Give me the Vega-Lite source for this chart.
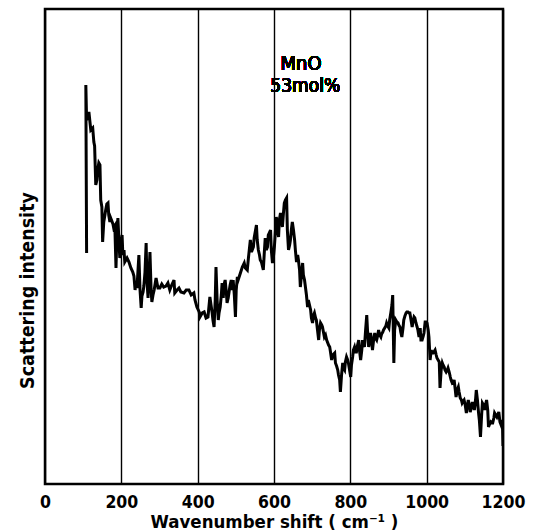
{
  "$schema": "https://vega.github.io/schema/vega-lite/v6.json",
  "width": 458,
  "height": 475,
  "autosize": {"type": "none"},
  "padding": {"left": 45, "top": 9, "right": 33, "bottom": 48},
  "background": "white",
  "config": {"view": {"stroke": "black", "strokeWidth": 2.5}},
  "data": {"values": [
    {"shift":109,"intensity":231},{"shift":107,"intensity":399},{"shift":109,"intensity":364},{"shift":115,"intensity":372},
    {"shift":120,"intensity":354},{"shift":125,"intensity":356},{"shift":128,"intensity":342},{"shift":130,"intensity":338},
    {"shift":133,"intensity":299},{"shift":136,"intensity":304},{"shift":138,"intensity":314},{"shift":141,"intensity":321},
    {"shift":144,"intensity":319},{"shift":146,"intensity":284},{"shift":149,"intensity":277},{"shift":151,"intensity":242},
    {"shift":154,"intensity":262},{"shift":157,"intensity":269},{"shift":159,"intensity":274},{"shift":162,"intensity":280},
    {"shift":165,"intensity":281},{"shift":167,"intensity":269},{"shift":170,"intensity":262},{"shift":172,"intensity":266},
    {"shift":178,"intensity":260},{"shift":180,"intensity":256},{"shift":183,"intensity":258},{"shift":186,"intensity":216},
    {"shift":188,"intensity":244},{"shift":191,"intensity":266},{"shift":193,"intensity":249},{"shift":196,"intensity":226},
    {"shift":199,"intensity":239},{"shift":202,"intensity":249},{"shift":204,"intensity":229},{"shift":207,"intensity":234},
    {"shift":209,"intensity":222},{"shift":215,"intensity":226},{"shift":220,"intensity":222},{"shift":225,"intensity":216},
    {"shift":230,"intensity":212},{"shift":233,"intensity":208},{"shift":236,"intensity":194},{"shift":238,"intensity":200},
    {"shift":241,"intensity":196},{"shift":244,"intensity":216},{"shift":246,"intensity":229},{"shift":249,"intensity":194},
    {"shift":252,"intensity":176},{"shift":254,"intensity":188},{"shift":257,"intensity":192},{"shift":259,"intensity":198},
    {"shift":262,"intensity":212},{"shift":265,"intensity":241},{"shift":267,"intensity":204},{"shift":270,"intensity":186},
    {"shift":272,"intensity":204},{"shift":275,"intensity":232},{"shift":278,"intensity":194},{"shift":280,"intensity":182},
    {"shift":283,"intensity":189},{"shift":286,"intensity":194},{"shift":291,"intensity":206},{"shift":296,"intensity":196},
    {"shift":301,"intensity":196},{"shift":306,"intensity":200},{"shift":311,"intensity":197},{"shift":317,"intensity":198},
    {"shift":322,"intensity":201},{"shift":327,"intensity":194},{"shift":332,"intensity":199},{"shift":338,"intensity":204},
    {"shift":340,"intensity":191},{"shift":346,"intensity":194},{"shift":351,"intensity":196},{"shift":356,"intensity":192},
    {"shift":364,"intensity":191},{"shift":370,"intensity":194},{"shift":377,"intensity":194},{"shift":383,"intensity":189},
    {"shift":390,"intensity":191},{"shift":393,"intensity":184},{"shift":398,"intensity":177},{"shift":404,"intensity":172},
    {"shift":406,"intensity":167},{"shift":412,"intensity":171},{"shift":417,"intensity":172},{"shift":422,"intensity":166},
    {"shift":427,"intensity":167},{"shift":432,"intensity":187},{"shift":435,"intensity":179},{"shift":438,"intensity":171},
    {"shift":440,"intensity":164},{"shift":443,"intensity":157},{"shift":446,"intensity":184},{"shift":448,"intensity":217},
    {"shift":451,"intensity":184},{"shift":454,"intensity":164},{"shift":456,"intensity":171},{"shift":459,"intensity":177},
    {"shift":462,"intensity":189},{"shift":464,"intensity":201},{"shift":467,"intensity":186},{"shift":469,"intensity":199},
    {"shift":472,"intensity":204},{"shift":475,"intensity":192},{"shift":477,"intensity":181},{"shift":480,"intensity":186},
    {"shift":483,"intensity":194},{"shift":485,"intensity":199},{"shift":488,"intensity":204},{"shift":491,"intensity":194},
    {"shift":493,"intensity":204},{"shift":496,"intensity":189},{"shift":499,"intensity":167},{"shift":501,"intensity":194},
    {"shift":504,"intensity":207},{"shift":506,"intensity":204},{"shift":512,"intensity":211},{"shift":517,"intensity":217},
    {"shift":522,"intensity":221},{"shift":525,"intensity":216},{"shift":530,"intensity":214},{"shift":533,"intensity":226},
    {"shift":538,"intensity":244},{"shift":541,"intensity":232},{"shift":546,"intensity":237},{"shift":548,"intensity":246},
    {"shift":554,"intensity":259},{"shift":556,"intensity":244},{"shift":559,"intensity":234},{"shift":562,"intensity":229},
    {"shift":564,"intensity":224},{"shift":567,"intensity":222},{"shift":572,"intensity":214},{"shift":575,"intensity":234},
    {"shift":577,"intensity":246},{"shift":580,"intensity":234},{"shift":583,"intensity":237},{"shift":585,"intensity":249},
    {"shift":591,"intensity":254},{"shift":593,"intensity":234},{"shift":596,"intensity":221},{"shift":599,"intensity":229},
    {"shift":601,"intensity":237},{"shift":604,"intensity":254},{"shift":606,"intensity":267},{"shift":609,"intensity":256},
    {"shift":612,"intensity":247},{"shift":614,"intensity":264},{"shift":617,"intensity":271},{"shift":620,"intensity":262},
    {"shift":622,"intensity":257},{"shift":625,"intensity":272},{"shift":627,"intensity":281},{"shift":630,"intensity":284},
    {"shift":633,"intensity":286},{"shift":635,"intensity":254},{"shift":638,"intensity":234},{"shift":641,"intensity":239},
    {"shift":643,"intensity":244},{"shift":646,"intensity":256},{"shift":648,"intensity":262},{"shift":651,"intensity":254},
    {"shift":654,"intensity":244},{"shift":656,"intensity":234},{"shift":659,"intensity":222},{"shift":662,"intensity":229},
    {"shift":664,"intensity":224},{"shift":667,"intensity":214},{"shift":669,"intensity":197},{"shift":672,"intensity":209},
    {"shift":675,"intensity":221},{"shift":677,"intensity":209},{"shift":680,"intensity":204},{"shift":685,"intensity":189},
    {"shift":688,"intensity":177},{"shift":690,"intensity":184},{"shift":696,"intensity":174},{"shift":698,"intensity":166},
    {"shift":701,"intensity":161},{"shift":704,"intensity":169},{"shift":706,"intensity":171},{"shift":709,"intensity":166},
    {"shift":711,"intensity":164},{"shift":714,"intensity":154},{"shift":717,"intensity":144},{"shift":719,"intensity":154},
    {"shift":722,"intensity":161},{"shift":725,"intensity":159},{"shift":727,"intensity":157},{"shift":730,"intensity":151},
    {"shift":732,"intensity":147},{"shift":735,"intensity":149},{"shift":738,"intensity":144},{"shift":743,"intensity":139},
    {"shift":746,"intensity":137},{"shift":748,"intensity":132},{"shift":751,"intensity":124},{"shift":754,"intensity":129},
    {"shift":759,"intensity":131},{"shift":761,"intensity":121},{"shift":764,"intensity":118},{"shift":767,"intensity":114},
    {"shift":769,"intensity":109},{"shift":772,"intensity":104},{"shift":774,"intensity":92},{"shift":777,"intensity":109},
    {"shift":780,"intensity":121},{"shift":782,"intensity":116},{"shift":785,"intensity":114},{"shift":787,"intensity":122},
    {"shift":790,"intensity":127},{"shift":793,"intensity":124},{"shift":795,"intensity":121},{"shift":798,"intensity":114},
    {"shift":801,"intensity":107},{"shift":803,"intensity":119},{"shift":806,"intensity":127},{"shift":808,"intensity":134},
    {"shift":811,"intensity":137},{"shift":814,"intensity":132},{"shift":816,"intensity":132},{"shift":819,"intensity":139},
    {"shift":822,"intensity":144},{"shift":824,"intensity":134},{"shift":827,"intensity":124},{"shift":830,"intensity":134},
    {"shift":832,"intensity":144},{"shift":835,"intensity":139},{"shift":837,"intensity":137},{"shift":840,"intensity":154},
    {"shift":843,"intensity":169},{"shift":845,"intensity":154},{"shift":848,"intensity":137},{"shift":851,"intensity":144},
    {"shift":853,"intensity":151},{"shift":856,"intensity":142},{"shift":858,"intensity":134},{"shift":861,"intensity":144},
    {"shift":864,"intensity":151},{"shift":866,"intensity":146},{"shift":869,"intensity":144},{"shift":872,"intensity":149},
    {"shift":874,"intensity":154},{"shift":877,"intensity":149},{"shift":880,"intensity":147},{"shift":882,"intensity":150},
    {"shift":885,"intensity":152},{"shift":887,"intensity":154},{"shift":890,"intensity":156},{"shift":893,"intensity":158},
    {"shift":895,"intensity":161},{"shift":898,"intensity":158},{"shift":901,"intensity":156},{"shift":903,"intensity":164},
    {"shift":906,"intensity":171},{"shift":909,"intensity":179},{"shift":911,"intensity":189},{"shift":914,"intensity":121},
    {"shift":916,"intensity":154},{"shift":919,"intensity":164},{"shift":922,"intensity":162},{"shift":925,"intensity":161},
    {"shift":927,"intensity":159},{"shift":930,"intensity":157},{"shift":932,"intensity":152},{"shift":935,"intensity":147},
    {"shift":938,"intensity":156},{"shift":940,"intensity":164},{"shift":943,"intensity":168},{"shift":946,"intensity":171},
    {"shift":948,"intensity":172},{"shift":951,"intensity":172},{"shift":954,"intensity":171},{"shift":956,"intensity":171},
    {"shift":959,"intensity":164},{"shift":962,"intensity":157},{"shift":964,"intensity":162},{"shift":967,"intensity":167},
    {"shift":969,"intensity":166},{"shift":972,"intensity":161},{"shift":975,"intensity":157},{"shift":977,"intensity":154},
    {"shift":980,"intensity":147},{"shift":983,"intensity":156},{"shift":985,"intensity":144},{"shift":988,"intensity":144},
    {"shift":991,"intensity":148},{"shift":993,"intensity":151},{"shift":996,"intensity":162},{"shift":999,"intensity":162},
    {"shift":1001,"intensity":161},{"shift":1004,"intensity":154},{"shift":1006,"intensity":147},{"shift":1009,"intensity":124},
    {"shift":1012,"intensity":134},{"shift":1014,"intensity":131},{"shift":1017,"intensity":131},{"shift":1022,"intensity":134},
    {"shift":1025,"intensity":129},{"shift":1027,"intensity":126},{"shift":1030,"intensity":124},{"shift":1033,"intensity":122},
    {"shift":1035,"intensity":96},{"shift":1038,"intensity":114},{"shift":1041,"intensity":121},{"shift":1043,"intensity":119},
    {"shift":1046,"intensity":117},{"shift":1048,"intensity":114},{"shift":1051,"intensity":112},{"shift":1054,"intensity":114},
    {"shift":1056,"intensity":116},{"shift":1059,"intensity":112},{"shift":1062,"intensity":107},{"shift":1064,"intensity":104},
    {"shift":1067,"intensity":101},{"shift":1070,"intensity":102},{"shift":1072,"intensity":104},{"shift":1075,"intensity":94},
    {"shift":1077,"intensity":87},{"shift":1080,"intensity":94},{"shift":1083,"intensity":97},{"shift":1085,"intensity":92},
    {"shift":1088,"intensity":86},{"shift":1091,"intensity":84},{"shift":1093,"intensity":81},{"shift":1096,"intensity":83},
    {"shift":1098,"intensity":84},{"shift":1101,"intensity":79},{"shift":1104,"intensity":71},{"shift":1106,"intensity":77},
    {"shift":1109,"intensity":84},{"shift":1112,"intensity":79},{"shift":1114,"intensity":72},{"shift":1117,"intensity":76},
    {"shift":1120,"intensity":82},{"shift":1122,"intensity":79},{"shift":1125,"intensity":74},{"shift":1128,"intensity":84},
    {"shift":1130,"intensity":94},{"shift":1133,"intensity":84},{"shift":1136,"intensity":71},{"shift":1138,"intensity":64},
    {"shift":1141,"intensity":47},{"shift":1144,"intensity":69},{"shift":1146,"intensity":81},{"shift":1149,"intensity":79},
    {"shift":1152,"intensity":74},{"shift":1154,"intensity":79},{"shift":1157,"intensity":84},{"shift":1160,"intensity":74},
    {"shift":1162,"intensity":57},{"shift":1165,"intensity":60},{"shift":1168,"intensity":62},{"shift":1170,"intensity":61},
    {"shift":1173,"intensity":61},{"shift":1176,"intensity":66},{"shift":1178,"intensity":71},{"shift":1184,"intensity":67},
    {"shift":1189,"intensity":72},{"shift":1192,"intensity":62},{"shift":1195,"intensity":59},{"shift":1197,"intensity":64},
    {"shift":1199,"intensity":54},{"shift":1200,"intensity":38}
  ]},
  "layer": [
    {
      "mark": {"type": "line", "color": "black", "strokeWidth": 3, "strokeJoin": "miter", "clip": true},
      "encoding": {
        "x": {
          "field": "shift", "type": "quantitative",
          "scale": {"domain": [0, 1200], "nice": false, "zero": false},
          "axis": {
            "values": [0, 200, 400, 600, 800, 1000, 1200],
            "format": "d",
            "grid": true, "gridColor": "black", "gridWidth": 1.4, "gridOpacity": 1,
            "domain": false, "ticks": false, "tickSize": 0,
            "labelFont": "DejaVu Sans Condensed", "labelFontWeight": "bold", "labelFontSize": 17.5,
            "labelColor": "black", "labelPadding": 9, "labelFlush": false, "labelOverlap": false,
            "title": "Wavenumber shift ( cm⁻¹ )",
            "titleFont": "DejaVu Sans Condensed", "titleFontWeight": "bold", "titleFontSize": 18.5,
            "titleColor": "black", "titleBaseline": "alphabetic", "titleY": 43
          }
        },
        "y": {
          "field": "intensity", "type": "quantitative",
          "scale": {"domain": [0, 475], "nice": false, "zero": false},
          "axis": {
            "grid": false, "domain": false, "ticks": false, "labels": false,
            "title": "Scattering intensity",
            "titleFont": "DejaVu Sans Condensed", "titleFontWeight": "bold", "titleFontSize": 19.5,
            "titleColor": "black", "titleAngle": -90, "titleBaseline": "alphabetic",
            "titleAlign": "center", "titleX": -12, "titleY": 281
          }
        },
        "order": {"value": null}
      }
    },
    {
      "mark": {"type": "text", "font": "DejaVu Sans Condensed", "fontSize": 20, "color": "black", "align": "center", "baseline": "middle"},
      "encoding": {
        "x": {"datum": 671, "type": "quantitative"},
        "y": {"datum": 420, "type": "quantitative"},
        "text": {"value": "MnO"}
      }
    },
    {
      "mark": {"type": "text", "font": "DejaVu Sans Condensed", "fontSize": 19, "color": "black", "align": "center", "baseline": "middle"},
      "encoding": {
        "x": {"datum": 682, "type": "quantitative"},
        "y": {"datum": 398, "type": "quantitative"},
        "text": {"value": "53mol%"}
      }
    }
  ]
}
